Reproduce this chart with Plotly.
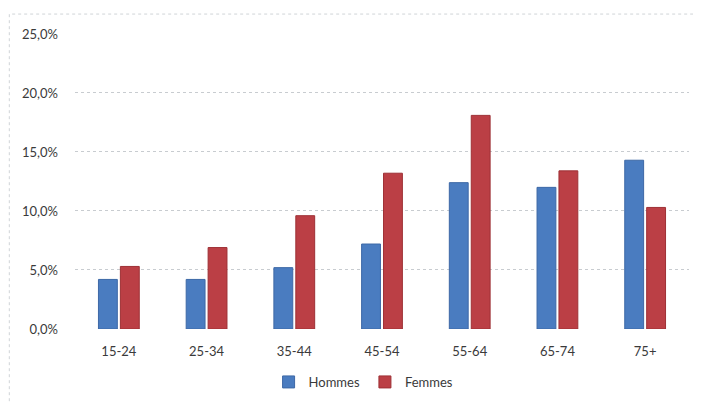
import plotly.graph_objects as go

categories = ["15-24", "25-34", "35-44", "45-54", "55-64", "65-74", "75+"]
hommes = [4.2, 4.2, 5.2, 7.2, 12.4, 12.0, 14.3]
femmes = [5.3, 6.9, 9.6, 13.2, 18.1, 13.4, 10.3]
ytick_vals = [0, 5, 10, 15, 20, 25]
ytick_text = ["0,0%", "5,0%", "10,0%", "15,0%", "20,0%", "25,0%"]

fig = go.Figure()
fig.add_trace(go.Bar(x=categories, y=hommes, name="Hommes",
                     marker=dict(color="#4a7cc0", line=dict(color="#3d68a6", width=1))))
fig.add_trace(go.Bar(x=categories, y=femmes, name="Femmes",
                     marker=dict(color="#bb3f45", line=dict(color="#9e3035", width=1))))

fig.update_layout(
    width=701, height=404,
    margin=dict(l=67, r=20, t=25, b=83, autoexpand=False),
    paper_bgcolor="white", plot_bgcolor="white",
    barmode="group", bargap=0.5, bargroupgap=0.14,
    font=dict(family="Lato, Open Sans, sans-serif", size=13, color="#3a3a3a"),
    showlegend=True,
    legend=dict(orientation="h", x=0.47, xanchor="center", y=-0.179, yanchor="middle",
                font=dict(size=13, color="#3a3a3a"), itemwidth=30),
    xaxis=dict(showgrid=False, showline=False, ticks="", tickfont=dict(size=13),
               ticklabelstandoff=13, automargin=False),
    yaxis=dict(range=[0, 25.08], tickvals=ytick_vals, ticktext=ytick_text,
               showgrid=True, gridcolor="#c8ccd0", griddash="dot", gridwidth=1,
               zeroline=False, showline=False, ticks="", ticklabelstandoff=16,
               tickfont=dict(size=13), automargin=False),
)
fig.add_shape(type="rect", xref="paper", yref="paper", x0=-0.107, x1=1.04, y0=-0.4, y1=1.064,
              line=dict(color="#d0d4d8", width=1, dash="dot"))
fig.write_html("out.html")
